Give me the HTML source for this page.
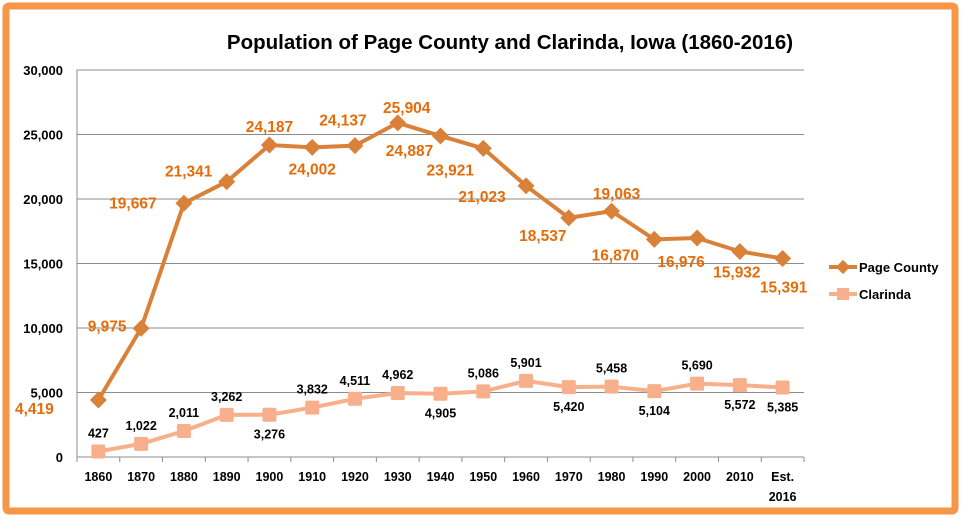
<!DOCTYPE html>
<html><head><meta charset="utf-8"><style>
body{margin:0;background:#fff;}
svg text{font-family:"Liberation Sans",sans-serif;font-weight:bold;}
</style></head><body>
<svg width="965" height="517" viewBox="0 0 965 517">
<rect x="6" y="6" width="949" height="505" fill="#fff" stroke="#f79646" stroke-width="7" rx="3"/>
<text x="510" y="49" text-anchor="middle" font-size="20.5" fill="#000">Population of Page County and Clarinda, Iowa (1860-2016)</text>
<g id="grid"></g><g id="axes"></g><g id="series"></g>
<g>
<g>
<line x1="829" y1="267" x2="857" y2="267" stroke="#da8139" stroke-width="4"/>
<rect x="838" y="262" width="10" height="10" fill="#da8139" transform="rotate(45 843 267)"/>
<text x="859" y="272" font-size="13" fill="#000">Page County</text></g>
<g>
<line x1="829" y1="294" x2="857" y2="294" stroke="#f7b08b" stroke-width="4"/>
<rect x="837" y="288" width="12" height="12" fill="#f7b08b"/>
<text x="859" y="299" font-size="13" fill="#000">Clarinda</text></g>
</g>
</svg>
<script>
const categories=["1860","1870","1880","1890","1900","1910","1920","1930","1940","1950","1960","1970","1980","1990","2000","2010","Est.|2016"];
const pageCounty=[4419,9975,19667,21341,24187,24002,24137,25904,24887,23921,21023,18537,19063,16870,16976,15932,15391];
const clarinda=[427,1022,2011,3262,3276,3832,4511,4962,4905,5086,5901,5420,5458,5104,5690,5572,5385];
const yTicks=[0,5000,10000,15000,20000,25000,30000];
// label placement (style): [dx, dy] relative to point
const pageLabelPos=[[-64,14],[-34,3],[-51,5],[-38,-5],[0,-13],[0,27],[-12,-20],[9,-10],[-31,20],[-33,27],[-44,16],[-26,23],[5,-12],[-39,21],[-16,29],[-3,26],[1,34]];
const clarLabelPos=['a','a','a','a','b','a','a','a','b','a','a','b','a','b','a','b','b'];
const NS="http://www.w3.org/2000/svg";
const X0=77,X1=804,Y0=457,Y1=70,N=categories.length,step=(X1-X0)/N;
const x=i=>X0+step*(i+0.5);
const y=v=>Y0-(v/30000)*(Y0-Y1);
function mk(tag,attrs,parent){const e=document.createElementNS(NS,tag);for(const k in attrs)e.setAttribute(k,attrs[k]);parent.appendChild(e);return e;}
const grid=document.getElementById('grid'),axes=document.getElementById('axes'),series=document.getElementById('series');
yTicks.forEach(t=>{
 if(t>0){const g=mk('line',{x1:X0,x2:X1,y1:y(t),y2:y(t),stroke:'#8c8c8c','stroke-width':1},grid);
 
 }
 const l=mk('text',{x:X0-14,y:y(t)+5,'text-anchor':'end','font-size':13,fill:'#000'},axes);
 l.textContent=t.toLocaleString('en-US');
 
 
});
const ya=mk('line',{x1:X0,x2:X0,y1:Y1,y2:Y0,stroke:'#8c8c8c'},axes);


const xa=mk('line',{x1:X0,x2:X1,y1:Y0,y2:Y0,stroke:'#8c8c8c'},axes);


for(let i=0;i<=N;i++){mk('line',{x1:X0+step*i,x2:X0+step*i,y1:Y0,y2:Y0+5,stroke:'#8c8c8c'},axes);}
categories.forEach((c,i)=>{
 const parts=c.split('|');
 parts.forEach((p,j)=>{const t=mk('text',{x:x(i),y:Y0+24+j*20,'text-anchor':'middle','font-size':12.5,fill:'#000'},axes);t.textContent=p;
 
 });
});
function pts(arr){return arr.map((v,i)=>x(i)+','+y(v)).join(' ');}
const cl=mk('polyline',{points:pts(clarinda),fill:'none',stroke:'#f7b08b','stroke-width':4},series);


const pl=mk('polyline',{points:pts(pageCounty),fill:'none',stroke:'#da8139','stroke-width':4},series);


clarinda.forEach((v,i)=>{
 const m=mk('rect',{x:x(i)-7,y:y(v)-7,width:14,height:14,fill:'#f7b08b',rx:1.5},series);
 
 
 const t=mk('text',{x:x(i),y:clarLabelPos[i]==='a'?y(v)-14:y(v)+24,'text-anchor':'middle','font-size':12.5,fill:'#000'},series);
 t.textContent=v.toLocaleString('en-US');
 
 
});
pageCounty.forEach((v,i)=>{
 const m=mk('rect',{x:x(i)-6,y:y(v)-6,width:12,height:12,fill:'#da8139',transform:`rotate(45 ${x(i)} ${y(v)})`},series);
 
 
 const p=pageLabelPos[i];
 const t=mk('text',{x:x(i)+p[0],y:y(v)+p[1],'text-anchor':'middle','font-size':15.5,fill:'#e46c0a'},series);
 t.textContent=v.toLocaleString('en-US');
 
 
});
</script>
</body></html>
